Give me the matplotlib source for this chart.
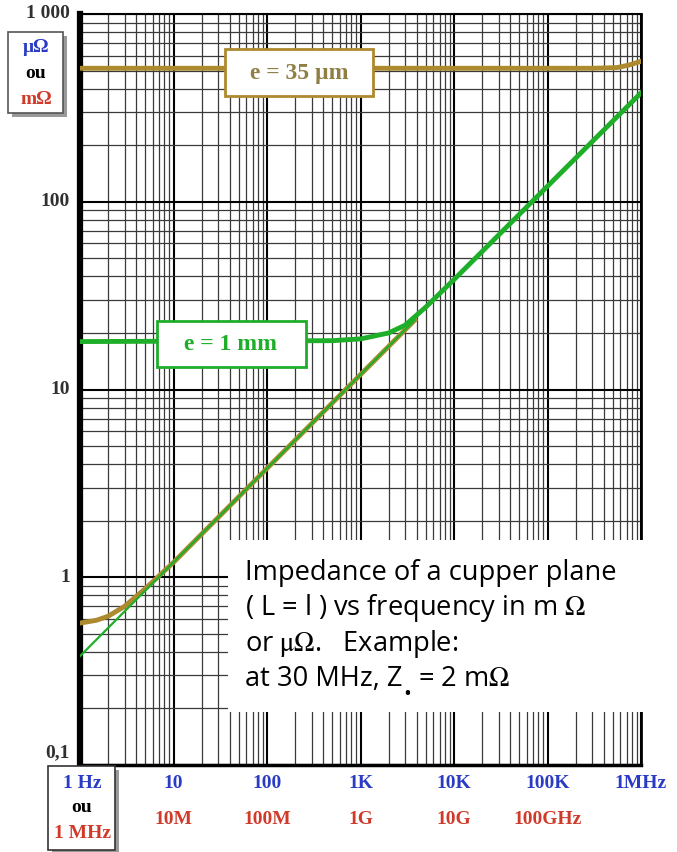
import matplotlib
matplotlib.use("Agg")
import matplotlib.pyplot as plt
from matplotlib.patches import Rectangle

plt.rcParams['mathtext.fontset'] = 'stix'

# data (frequency on the Hz scale, impedance in uOhm)
f_35um = [1, 3e5, 5.5e5, 7.5e5, 1e6]
z_35um = [514, 514, 518, 535, 560]

f_1mm = [1, 500, 1000, 2000, 3000, 5000, 1e4, 1e5, 1e6]
z_1mm = [18, 18.2, 18.6, 20, 22, 27.5, 38.5, 121, 380]

f_35um_hf = [1, 1.5, 2, 3, 5, 10, 100, 1000, 3800]
z_35um_hf = [0.57, 0.59, 0.62, 0.70, 0.87, 1.2, 3.8, 12, 23.4]

f_asym = [1, 3800]
z_asym = [0.38, 23.4]

ytick_vals = [1000, 100, 10, 1, 0.1]
ytick_labels = ['1 000', '100', '10', '1', '0,1']

x_blue = [10, 100, 1e3, 1e4, 1e5, 1e6]
x_blue_labels = ['10', '100', '1K', '10K', '100K', '1MHz']
x_red = [10, 100, 1e3, 1e4, 1e5]
x_red_labels = ['10M', '100M', '1G', '10G', '100GHz']

W, H = 677, 852
BROWN = '#ae8a2e'
GREEN = '#1fae2a'
BLUE = '#2b3cc4'
RED = '#d03a2a'
SERIF = 'Liberation Serif'
SANS = ['Open Sans', 'DejaVu Sans']
NOTE_FS = 19.6


def fx(px):
    return px / W


def fy(py):
    return 1 - py / H


fig = plt.figure(figsize=(W / 100, H / 100), dpi=100)
ax = fig.add_axes([fx(80), fy(765), (641 - 80) / W, (765 - 14) / H])
ax.set_xscale('log')
ax.set_yscale('log')
ax.set_xlim(1, 1e6)
ax.set_ylim(0.1, 1000)

ax.grid(which='minor', color='#3a3a3a', lw=0.9)
ax.grid(which='major', color='black', lw=1.5)
ax.tick_params(which='both', length=0, labelbottom=False, labelleft=False)
for side, lw in [('left', 4.5), ('bottom', 2.5), ('right', 2), ('top', 1.5)]:
    ax.spines[side].set_linewidth(lw)

# curves
ax.plot(f_35um, z_35um, color=BROWN, lw=3.5, zorder=3)
ax.plot(f_35um_hf, z_35um_hf, color=BROWN, lw=3.5, zorder=3)
ax.plot(f_asym, z_asym, color=GREEN, lw=1.6, zorder=4)
ax.plot(f_1mm, z_1mm, color=GREEN, lw=3.5, zorder=4)

# y labels
for v, lab in zip(ytick_vals, ytick_labels):
    dy = 12 if v == 0.1 else 0
    ax.annotate(lab, (1, v), xytext=(-10, dy), textcoords='offset pixels',
                ha='right', va='center', fontsize=14, fontweight='bold',
                family=SERIF, color='#303030', annotation_clip=False)

# x labels (two scales)
for v, lab in zip(x_blue, x_blue_labels):
    ax.annotate(lab, (v, 0.1), xytext=(0, -19), textcoords='offset pixels',
                ha='center', va='center', fontsize=14, fontweight='bold',
                family=SERIF, color=BLUE, annotation_clip=False)
for v, lab in zip(x_red, x_red_labels):
    ax.annotate(lab, (v, 0.1), xytext=(0, -54), textcoords='offset pixels',
                ha='center', va='center', fontsize=14, fontweight='bold',
                family=SERIF, color=RED, annotation_clip=False)


def box(x0, y0, x1, y1, edge, lw=1.2, shadow=False, z=5):
    if shadow:
        fig.patches.append(Rectangle((fx(x0 + 4), fy(y1 + 4)), (x1 - x0) / W, (y1 - y0) / H,
                                     transform=fig.transFigure, facecolor='#9a9a9a',
                                     edgecolor='none', zorder=z - 0.5))
    fig.patches.append(Rectangle((fx(x0), fy(y1)), (x1 - x0) / W, (y1 - y0) / H,
                                 transform=fig.transFigure, facecolor='white',
                                 edgecolor=edge, lw=lw, zorder=z))


# unit box top-left
box(8, 32, 63, 113, '#555555', shadow=True)
for t, c, py in [('μΩ', BLUE, 48), ('ou', 'black', 73), ('mΩ', RED, 99)]:
    fig.text(fx(36), fy(py), t, ha='center', va='center', fontsize=14,
             fontweight='bold', family=SERIF, color=c, zorder=6)

# frequency box bottom-left
box(48, 766, 115, 850, '#333333', shadow=True)
for t, c, py in [('1 Hz', BLUE, 783), ('ou', 'black', 808), ('1 MHz', RED, 833)]:
    fig.text(fx(82), fy(py), t, ha='center', va='center', fontsize=14,
             fontweight='bold', family=SERIF, color=c, zorder=6)

# curve labels
box(225, 49, 373, 96, BROWN, lw=2)
fig.text(fx(299), fy(73), 'e = 35 µm', ha='center', va='center', fontsize=17,
         fontweight='bold', family=SERIF, color='#8f7f45', zorder=6)
box(157, 321, 306, 367, GREEN, lw=2)
fig.text(fx(231), fy(345), 'e = 1 mm', ha='center', va='center', fontsize=17,
         fontweight='bold', family=SERIF, color=GREEN, zorder=6)

# annotation
box(228, 540, 662, 712, 'none', lw=0)
note = ['Impedance of a cupper plane',
        r'( L = l ) vs frequency in m $\Omega$',
        r'or $\mathrm{μΩ}$.   Example:']
for i, line in enumerate(note):
    fig.text(fx(245), fy(573 + 35.5 * i), line, ha='left', va='center',
             fontsize=NOTE_FS, family=SANS, color='black', zorder=6)

# last line with the subscript dot under Z
renderer = fig.canvas.get_renderer()
py_last = 573 + 35.5 * 3
t1 = fig.text(fx(245), fy(py_last), 'at 30 MHz, Z', ha='left', va='center',
              fontsize=NOTE_FS, family=SANS, color='black', zorder=6)
x_end = t1.get_window_extent(renderer).x1
fig.text((x_end + 1) / W, fy(py_last + 15), '•', ha='left', va='center',
         fontsize=15, family=SANS, color='black', zorder=6)
fig.text((x_end + 9) / W, fy(py_last), r' = 2 m$\Omega$', ha='left', va='center',
         fontsize=NOTE_FS, family=SANS, color='black', zorder=6)

fig.savefig('out.png', dpi=100)
